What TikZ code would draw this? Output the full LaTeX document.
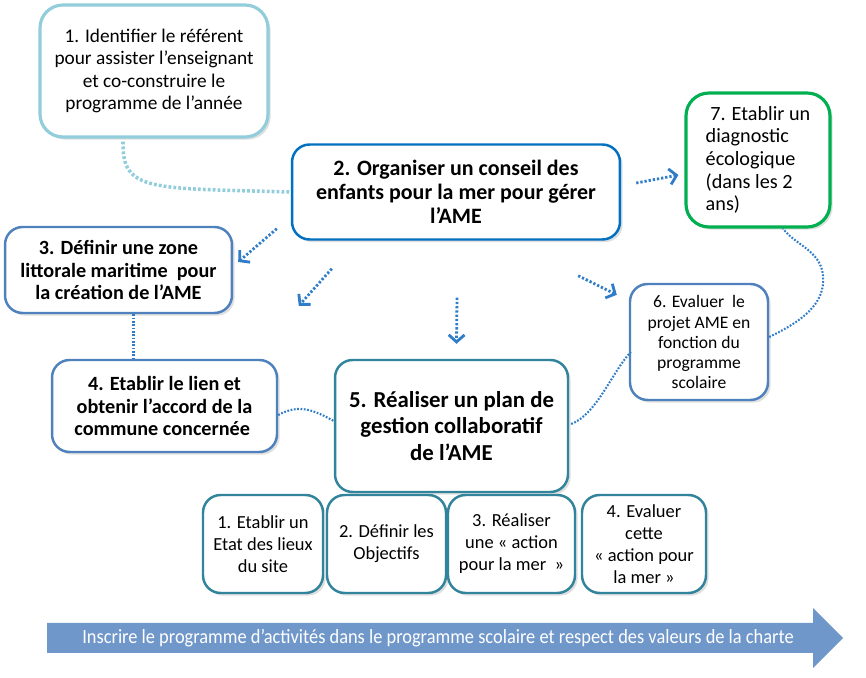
\documentclass[tikz,border=0pt]{standalone}
\usepackage{fontspec}
\setmainfont{Carlito}
\newfontfamily\bandfont[FakeStretch=0.91]{Carlito}
\usetikzlibrary{arrows.meta,shadows}

\definecolor{paleblue}{HTML}{92CDDC}
\definecolor{strongblue}{HTML}{0070C0}
\definecolor{softblue}{HTML}{4F81BD}
\definecolor{teal5}{HTML}{31849B}
\definecolor{green7}{HTML}{00B050}
\definecolor{dotblue}{HTML}{2F7DC8}
\definecolor{bandblue}{HTML}{7097CA}

\begin{document}
\begin{tikzpicture}[x=0.02cm,y=-0.02cm,
  box/.style={draw, fill=white, rounded corners=10pt, line width=1.4pt, align=center, inner sep=0pt,
    drop shadow={opacity=0.25, shadow xshift=1.5pt, shadow yshift=-1.5pt}},
  flow/.style={dotblue, line width=1.6pt, dash pattern=on 1.3pt off 1.1pt, -{Straight Barb[length=4pt,width=9pt,line width=1.6pt]}},
  link/.style={dotblue, line width=1.2pt, dash pattern=on 1pt off 0.9pt},
  step5/.style={box, draw=teal5, minimum height=1.96cm, font=\fontsize{10.5}{12.5}\selectfont}]
\useasboundingbox (0,0) rectangle (866,678);

\node[box, draw=paleblue, line width=1.8pt, rounded corners=13pt, minimum width=4.56cm, minimum height=2.64cm,
  font=\fontsize{11}{12.6}\selectfont] (b1) at (154,71)
  {1. Identifier le référent\\pour assister l’enseignant\\et co-construire le\\programme de l’année};
\node[box, draw=strongblue, minimum width=6.56cm, minimum height=1.9cm,
  font=\bfseries\fontsize{12.5}{13.8}\selectfont] (b2) at (456,192)
  {2. Organiser un conseil des\\enfants pour la mer pour gérer\\l’AME};
\node[box, draw=green7, line width=1.8pt, rounded corners=13pt, minimum width=2.88cm, minimum height=2.68cm,
  align=left, font=\fontsize{11.5}{12.9}\selectfont] (b7) at (758,160)
  {\ 7. Etablir un\\diagnostic\\écologique\\(dans les 2\\ans)};
\node[box, draw=softblue, minimum width=4.54cm, minimum height=1.72cm,
  font=\bfseries\fontsize{11.5}{13}\selectfont] (b3) at (118.5,270)
  {3. Définir une zone\\littorale maritime\ \ pour\\la création de l’AME};
\node[box, draw=softblue, minimum width=4.5cm, minimum height=1.84cm,
  font=\bfseries\fontsize{11.5}{12.6}\selectfont] (b4) at (164.5,406)
  {4. Etablir le lien et\\obtenir l’accord de la\\commune concernée\ \ };
\node[box, draw=teal5, minimum width=4.66cm, minimum height=2.64cm,
  font=\bfseries\fontsize{13}{15.2}\selectfont] (b5) at (451.5,426)
  {5. Réaliser un plan de\\gestion collaboratif\\de l’AME};
\node[box, draw=softblue, minimum width=2.76cm, minimum height=2.32cm,
  font=\fontsize{10}{11.4}\selectfont] (b6) at (699,342)
  {6. Evaluer\ \ le\\projet AME en\\fonction du\\programme\\scolaire};

% sous-etapes du plan de gestion
\node[step5, minimum width=2.4cm] (s1) at (263,544) {1. Etablir un\\Etat des lieux\\du site};
\node[step5, minimum width=2.38cm] (s2) at (386.5,544) {2. Définir les\\Objectifs};
\node[step5, minimum width=2.54cm] (s3) at (511.5,544) {3. Réaliser\\une « action\\pour la mer\ \ »};
\node[step5, minimum width=2.48cm] (s4) at (644,544) {4. Evaluer\\cette\\« action pour\\la mer »};

% fleche du bas
\fill[bandblue] (47,623) -- (813,623) -- (813,608) -- (843,638) -- (813,668) -- (813,653) -- (47,653) -- cycle;
\node[text=white, font=\bandfont\fontsize{11.5}{13}\selectfont] (band) at (438,638)
  {Inscrire le programme d’activités dans le programme scolaire et respect des valeurs de la charte};

% liaisons
\draw[paleblue, line width=2pt, dash pattern=on 1.6pt off 1.2pt]
  ([shift={(-31,3)}]b1.south) .. controls (122,192) and (150,188) .. (b2.west);
\draw[flow] ([shift={(15,-9)}]b2.east) -- ([shift={(-6,15)}]b7.west);
\draw[flow] ([shift={(-14,-12)}]b2.south west) -- ([shift={(5,-8)}]b3.east);
\draw[flow] ([shift={(41,28)}]b2.south west) -- ([shift={(-35,-53)}]b5.north west);
\draw[flow] ([shift={(1,57)}]b2.south) -- ([shift={(5,-15)}]b5.north);
\draw[flow] ([shift={(-43,35)}]b2.south east) -- ([shift={(-12,12)}]b6.north west);
\draw[link] ([shift={(15,0)}]b3.south) -- ([shift={(-31,0)}]b4.north);
\draw[link] ([shift={(0,9)}]b4.east) .. controls (300,403) and (315,411) .. ([shift={(0,-5)}]b5.west);
\draw[link] ([shift={(2,-2)}]b5.east) .. controls (597,414) and (612,372) .. ([shift={(2,10)}]b6.west);
\draw[link] ([shift={(0,-5)}]b6.east) .. controls (800,322) and (826,305) .. (823,275)
  .. controls (820,250) and (795,245) .. ([shift={(25,0)}]b7.south);
\end{tikzpicture}
\end{document}
